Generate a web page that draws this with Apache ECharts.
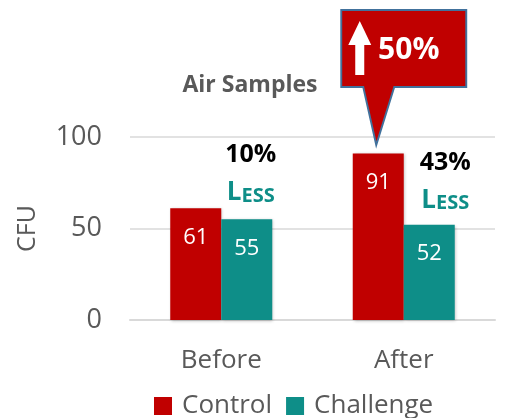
<!DOCTYPE html>
<html>
<head>
<meta charset="utf-8">
<script src="https://cdn.jsdelivr.net/npm/echarts@6/dist/echarts.min.js"></script>
<style>
  * { margin: 0; padding: 0; }
  body { background: #fff; }
</style>
</head>
<body>
<div id="main" style="width:512px;height:418px;"></div>
<script>
var categories = ['Before', 'After'];
var control = [61, 91];
var challenge = [55, 52];
// 注释文字
var lessPct = ['10%', '43%'];
var lessPos = [90, 86];      // y value of the percentage text
var lessWordPos = [69.5, 65.5];
var increase = '50%';

var RED = '#C00000';
var TEAL = '#0E8E88';
var GREY = '#595959';
var FONT = 'Open Sans';

var lessMarks = [];
for (var i = 0; i < categories.length; i++) {
    var dx = i === 0 ? 4 : 16;
    lessMarks.push({
        coord: [categories[i], lessPos[i]],
        symbolSize: 0,
        label: {
            show: true, position: 'inside', offset: [dx, 0],
            formatter: lessPct[i], fontFamily: FONT, fontWeight: 'bold',
            fontSize: 25, color: '#000'
        }
    });
    lessMarks.push({
        coord: [categories[i], lessWordPos[i]],
        symbolSize: 0,
        label: {
            show: true, position: 'inside', offset: [dx, 0],
            formatter: '{a|L}{b|ESS}',
            rich: {
                a: { fontFamily: FONT, fontWeight: 'bold', fontSize: 26, color: TEAL },
                b: { fontFamily: FONT, fontWeight: 'bold', fontSize: 20, color: TEAL, verticalAlign: 'bottom', padding: [3, 0, 0, 0] }
            }
        }
    });
}

var chart = echarts.init(document.getElementById('main'));
chart.setOption({
    backgroundColor: '#fff',
    animation: false,
    title: {
        text: 'Air Samples',
        left: 245, top: 69, textAlign: 'center',
        textStyle: { fontFamily: FONT, fontWeight: 'bold', fontSize: 23, color: GREY }
    },
    legend: {
        data: ['Control', 'Challenge'],
        left: 149, top: 388,
        itemWidth: 18, itemHeight: 18, itemGap: 14,
        icon: 'rect',
        textStyle: { fontFamily: FONT, fontSize: 26, color: GREY, padding: [0, 0, 0, 5] }
    },
    grid: { left: 130, right: 17, top: 137, bottom: 98 },
    xAxis: {
        type: 'category',
        data: categories,
        axisLine: { lineStyle: { color: '#D9D9D9', width: 2 } },
        axisTick: { show: false },
        axisLabel: { fontFamily: FONT, fontSize: 26, color: GREY, margin: 28 }
    },
    yAxis: {
        type: 'value',
        min: 0, max: 100, interval: 50,
        name: 'CFU',
        nameLocation: 'middle',
        nameGap: 90,
        nameTextStyle: { fontFamily: FONT, fontSize: 25, color: GREY },
        axisLine: { show: false },
        axisTick: { show: false },
        axisLabel: { fontFamily: FONT, fontSize: 27, color: GREY, margin: 28 },
        splitLine: { lineStyle: { color: '#D9D9D9', width: 1.5 } }
    },
    series: [{
        name: 'Control',
        type: 'bar',
        data: control,
        barWidth: 51,
        barGap: '0%',
        itemStyle: { color: RED, shadowColor: 'rgba(0,0,0,0.25)', shadowBlur: 3, shadowOffsetX: 1, shadowOffsetY: 1 },
        label: {
            show: true, position: 'insideTop', distance: 18,
            fontFamily: FONT, fontSize: 22, color: '#fff'
        },
        markPoint: {
            silent: true,
            data: [{
                // callout box pointing at the After control bar
                coord: ['After', control[1]],
                symbol: 'path://M0,0 H125 V77 H53 L35,135 L22,77 H0 Z',
                symbolSize: [125, 135],
                symbolOffset: [25.5, -76],
                itemStyle: { color: RED, borderColor: '#41719C', borderWidth: 2 },
                label: {
                    show: true, position: 'inside', offset: [5, -27.5],
                    formatter: increase, fontFamily: FONT, fontWeight: 'bold',
                    fontSize: 30, color: '#fff'
                }
            }, {
                coord: ['After', control[1]],
                symbol: 'path://M11.5,0 L23,24 H16 V54 H7 V24 H0 Z',
                symbolSize: [23, 54],
                symbolOffset: [-18.5, -105.5],
                itemStyle: { color: '#fff', borderWidth: 0 },
                label: { show: false }
            }]
        }
    }, {
        name: 'Challenge',
        type: 'bar',
        data: challenge,
        barWidth: 51,
        itemStyle: { color: TEAL, shadowColor: 'rgba(0,0,0,0.25)', shadowBlur: 3, shadowOffsetX: 1, shadowOffsetY: 1 },
        label: {
            show: true, position: 'insideTop', distance: 18,
            fontFamily: FONT, fontSize: 22, color: '#fff'
        },
        markPoint: {
            silent: true,
            symbol: 'circle',
            data: lessMarks
        }
    }]
});
</script>
</body>
</html>
